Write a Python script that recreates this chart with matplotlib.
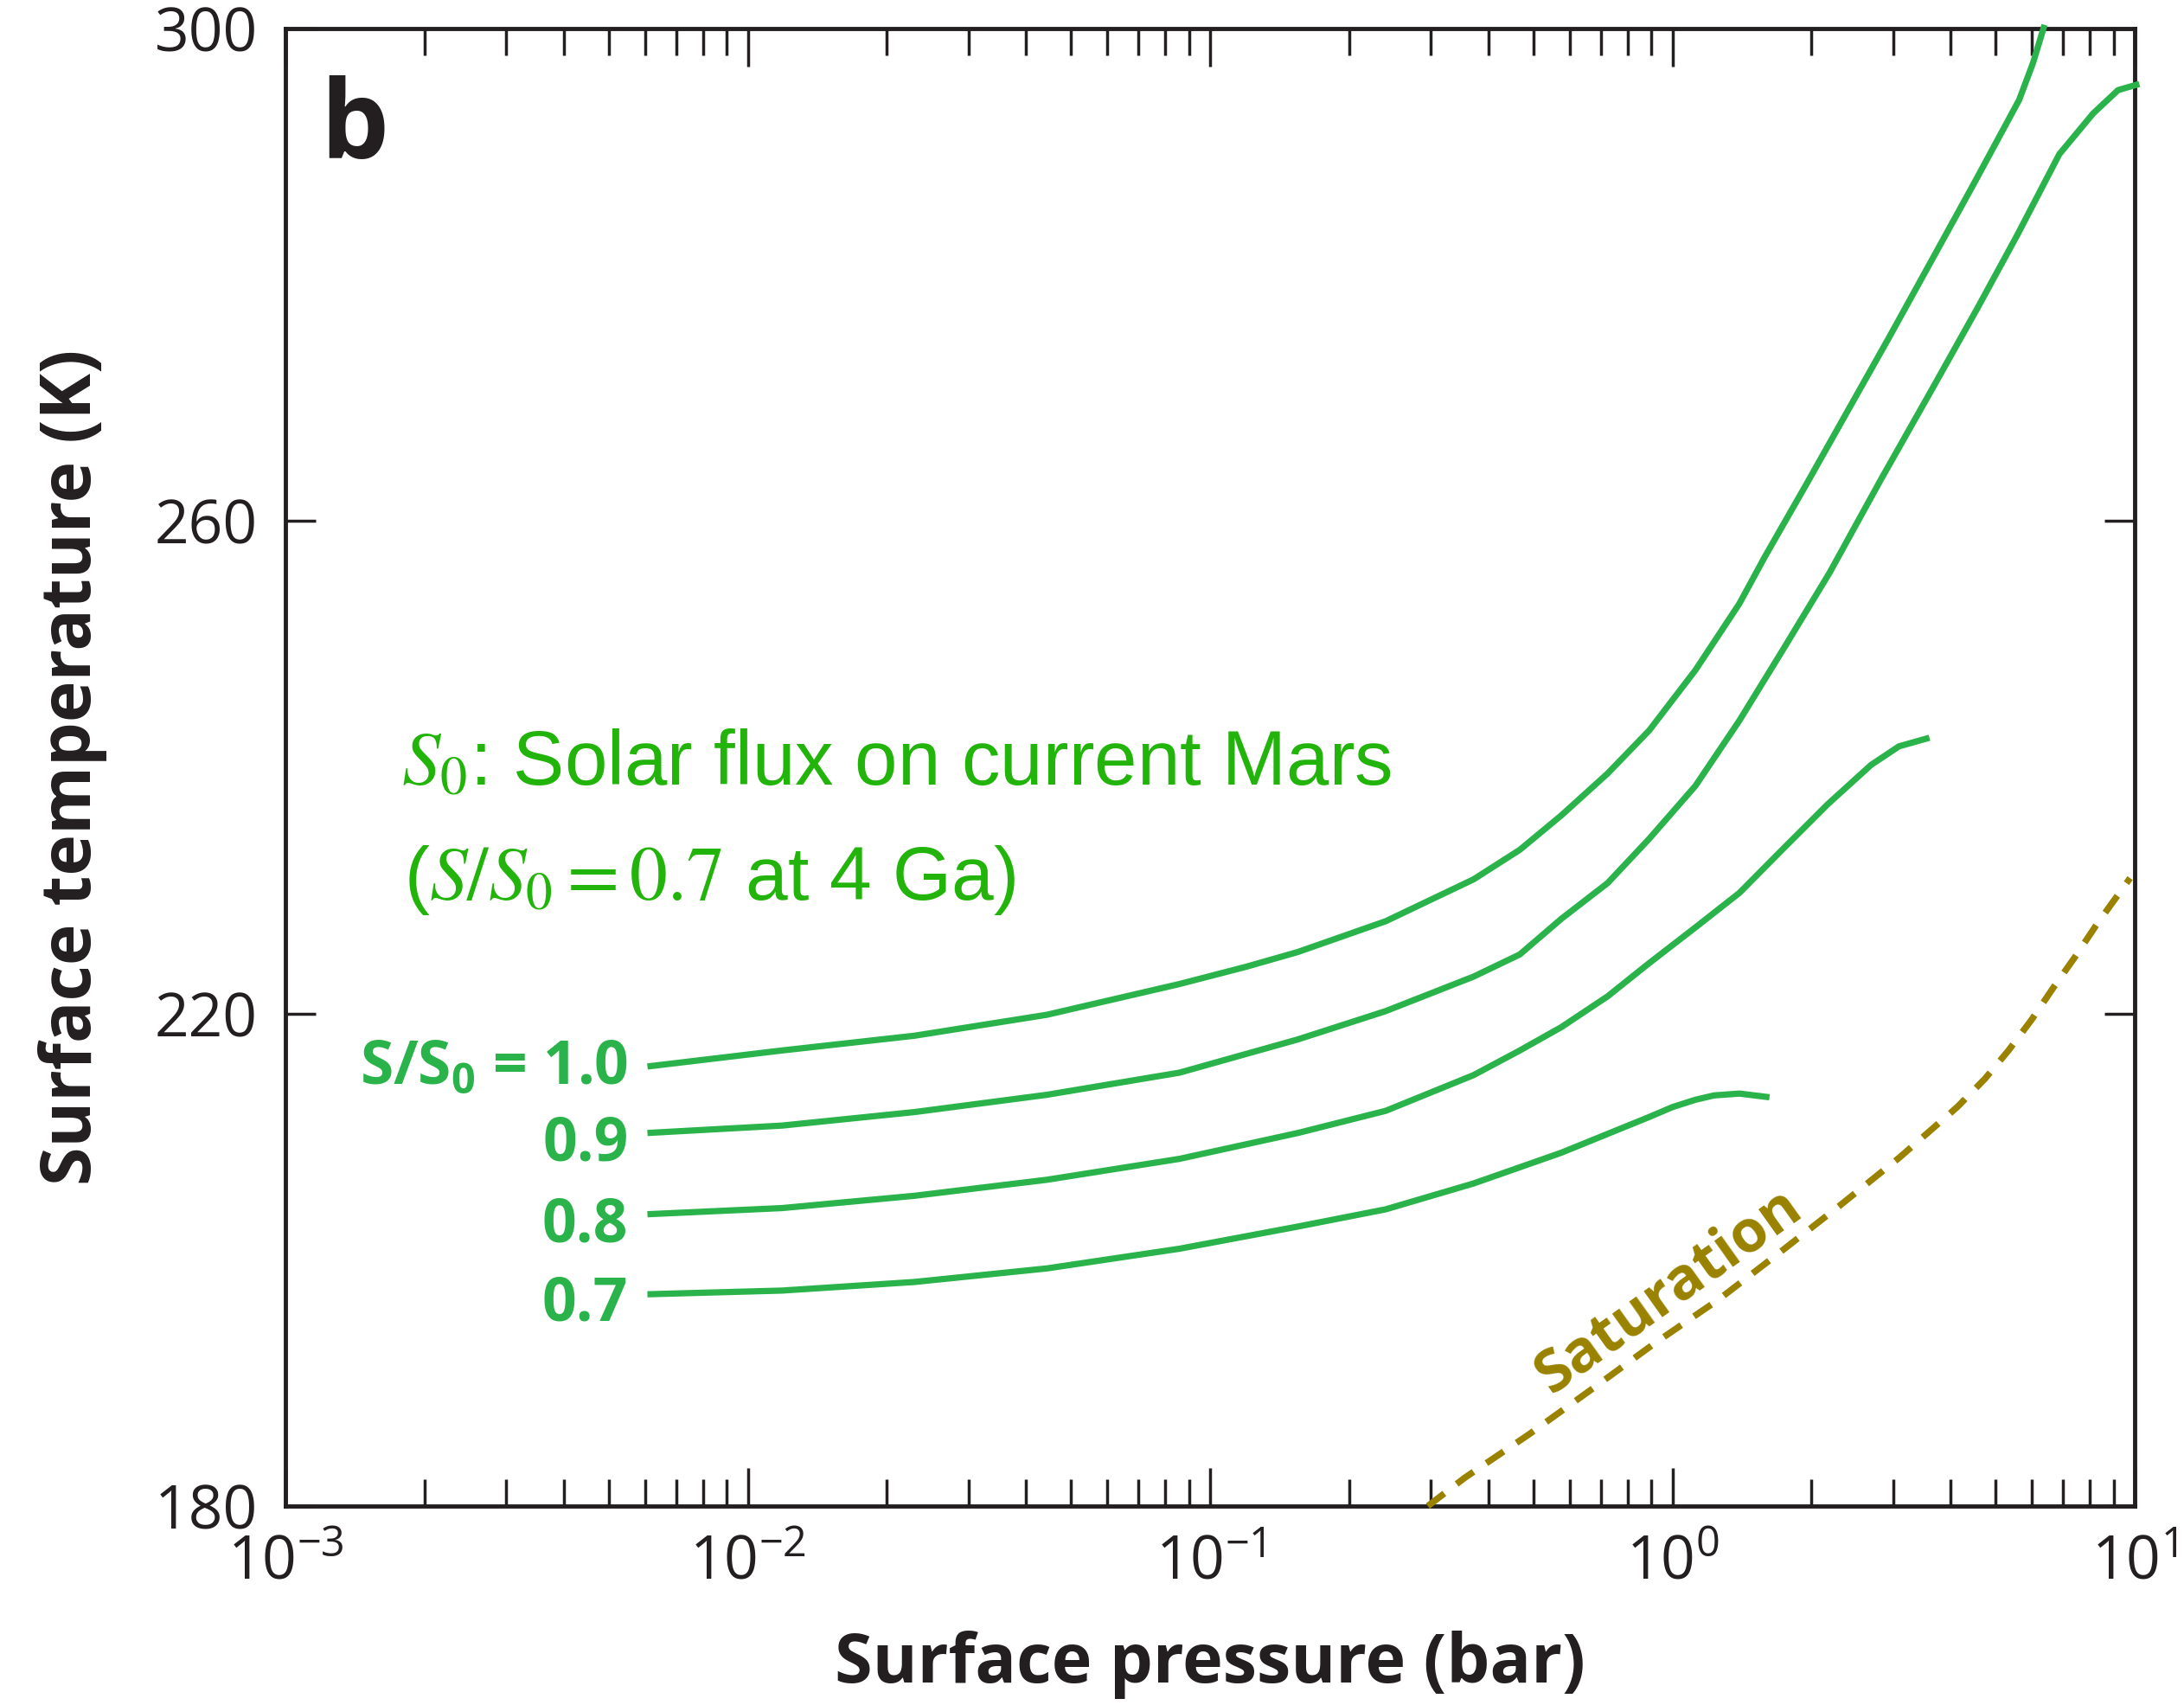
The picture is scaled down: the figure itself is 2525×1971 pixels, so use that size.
import numpy as np
import matplotlib
matplotlib.use("Agg")
import matplotlib.pyplot as plt
from matplotlib.ticker import LogLocator, NullLocator, FixedLocator

# Valores (pressão em log10(bar), temperatura em K)
fluxos = ["1.0", "0.9", "0.8", "0.7"]

logp_10 = [-2.217, -1.926, -1.639, -1.353, -1.066, -0.922, -0.81, -0.62, -0.43, -0.33,
           -0.24, -0.14, -0.05, 0.05, 0.145, 0.20, 0.29, 0.38, 0.47, 0.57, 0.655,
           0.75, 0.78, 0.805]
temp_10 = [215.7, 217.0, 218.2, 219.9, 222.4, 223.8, 225.0, 227.5, 230.9, 233.3,
           236.1, 239.5, 243.0, 247.9, 253.3, 257.1, 263.0, 269.0, 275.0, 281.8, 287.6,
           294.2, 297.2, 300.3]

logp_09 = [-2.217, -1.926, -1.639, -1.353, -1.066, -0.81, -0.62, -0.43, -0.33, -0.24,
           -0.14, -0.05, 0.05, 0.145, 0.24, 0.34, 0.45, 0.566, 0.66, 0.747, 0.837,
           0.91, 0.964, 1.01]
temp_09 = [210.3, 210.9, 212.0, 213.4, 215.2, 217.9, 220.2, 223.0, 224.8, 227.7,
           230.6, 234.2, 238.5, 243.8, 249.6, 255.8, 263.3, 271.0, 277.3, 283.3, 289.8,
           293.1, 295.0, 295.5]

logp_08 = [-2.217, -1.926, -1.639, -1.353, -1.066, -0.81, -0.62, -0.43, -0.33, -0.24,
           -0.14, -0.05, 0.05, 0.145, 0.24, 0.336, 0.43, 0.49, 0.556]
temp_08 = [203.7, 204.2, 205.2, 206.5, 208.2, 210.3, 212.1, 215.0, 217.0, 218.9,
           221.4, 224.1, 227.0, 229.8, 233.4, 237.0, 240.2, 241.7, 242.4]

logp_07 = [-2.217, -1.926, -1.639, -1.353, -1.066, -0.81, -0.62, -0.43, -0.24, -0.05,
           0.0, 0.05, 0.09, 0.145, 0.21]
temp_07 = [197.2, 197.5, 198.2, 199.3, 200.9, 202.7, 204.1, 206.2, 208.7, 211.6,
           212.4, 213.0, 213.35, 213.5, 213.2]

logp_sat = [-0.529, -0.449, -0.311, -0.174, -0.039, 0.101, 0.229, 0.362, 0.491, 0.616,
            0.676, 0.727, 0.777, 0.824, 0.871, 0.919, 0.99]
temp_sat = [180.0, 182.3, 185.8, 189.5, 193.2, 196.8, 200.5, 204.4, 208.3, 212.4,
            214.7, 217.0, 219.5, 222.1, 224.6, 227.3, 231.0]

# Deslocamento dos rótulos em relação ao início de cada curva (pontos)
desloc_rotulos = [(-16, -14), (-16, -23), (-16, -23), (-16, -22)]

verde = "#2bb34b"
verde_texto = "#22b40a"
oliva = "#9a8200"
preto = "#231f20"

plt.rcParams["font.family"] = ["Open Sans", "DejaVu Sans"]
plt.rcParams["mathtext.fontset"] = "custom"
plt.rcParams["mathtext.rm"] = "Open Sans:bold"
plt.rcParams["mathtext.bf"] = "Open Sans:bold"

fig = plt.figure(figsize=(25.25, 19.71), dpi=100)
ax = fig.add_axes([330 / 2525, 1 - 1741 / 1971, 2138 / 2525, 1708 / 1971])

curvas = [(logp_10, temp_10), (logp_09, temp_09), (logp_08, temp_08), (logp_07, temp_07)]
for (lp, tt), rot, off in zip(curvas, fluxos, desloc_rotulos):
    p = 10.0 ** np.array(lp)
    ax.plot(p, tt, color=verde, lw=5.2, solid_capstyle="butt", solid_joinstyle="round",
            clip_on=False, zorder=3)
    txt = rot
    if rot == "1.0":
        txt = r"S/S$_0$ = 1.0"
    ax.annotate(txt, (p[0], tt[0]), xytext=off, textcoords="offset points",
                ha="right", va="baseline", fontsize=50, fontweight="bold", color=verde)

ax.plot(10.0 ** np.array(logp_sat), temp_sat, color=oliva, lw=5.4,
        dashes=(3.2, 2.4), clip_on=False, zorder=3)
ax.text(10 ** -0.007, 197.5, "Saturation", rotation=35.5, ha="center", va="center",
        rotation_mode="anchor", fontsize=49, fontweight="bold", color=oliva)

# Anotação do fluxo solar
ax.text(0.0627, 0.4877, r"$S_0$: Solar flux on current Mars", transform=ax.transAxes,
        fontsize=64, family="Liberation Sans", color=verde_texto, math_fontfamily="stix")
ax.text(0.0640, 0.4104, r"($S/S_0 = 0.7$ at 4 Ga)", transform=ax.transAxes,
        fontsize=63, family="Liberation Sans", color=verde_texto, math_fontfamily="stix")

ax.text(0.0187, 0.912, "b", transform=ax.transAxes, fontsize=90, fontweight="bold", color=preto)

ax.set_xscale("log")
ax.set_xlim(1e-3, 1e1)
ax.set_ylim(180, 300)
ax.xaxis.set_major_locator(LogLocator(base=10, numticks=10))
ax.xaxis.set_minor_locator(LogLocator(base=10, subs=np.arange(2, 10), numticks=10))
ax.yaxis.set_major_locator(FixedLocator([180, 220, 260, 300]))
ax.yaxis.set_minor_locator(NullLocator())

ax.tick_params(which="both", direction="in", top=True, right=True, colors=preto,
               width=2.5, labelsize=50, pad=23)
ax.tick_params(axis="x", which="major", length=32)
ax.tick_params(axis="x", which="minor", length=22.5)
ax.tick_params(axis="y", which="major", length=25)
for s in ax.spines.values():
    s.set_linewidth(3.5)
    s.set_color(preto)

fig.text(1399 / 2525, 1 - 1945 / 1971, "Surface pressure (bar)", ha="center", va="baseline",
         fontsize=57, fontweight="bold", color=preto)
fig.text(105 / 2525, 1 - 887 / 1971, "Surface temperature (K)", rotation=90,
         rotation_mode="anchor", ha="center", va="baseline",
         fontsize=58, fontweight="bold", color=preto)

fig.savefig("out.png", dpi=100)
